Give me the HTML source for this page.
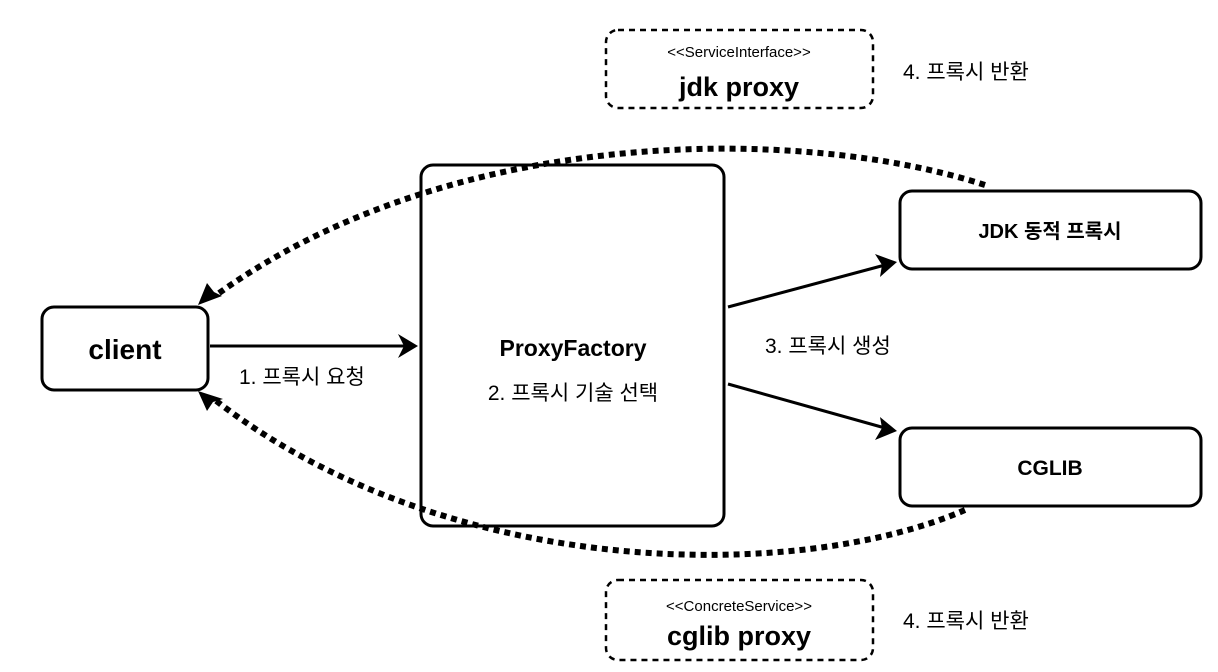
<!DOCTYPE html>
<html><head><meta charset="utf-8"><style>
html,body{margin:0;padding:0;background:#fff;}
svg{display:block;}
text{font-family:"Liberation Sans","Noto Sans CJK KR",sans-serif;fill:#000;}
</style></head><body>
<svg width="1218" height="672" viewBox="0 0 1218 672">
<g fill="none" stroke="#000" stroke-width="3">
<rect x="42" y="307" width="166" height="83" rx="12"/>
<rect x="421" y="165" width="303" height="361" rx="12"/>
<rect x="900" y="191" width="301" height="78" rx="12"/>
<rect x="900" y="428" width="301" height="78" rx="12"/>
<rect x="606" y="30" width="267" height="78" rx="12" stroke-dasharray="6 5" stroke-width="2.5"/>
<rect x="606" y="580" width="267" height="80" rx="12" stroke-dasharray="6 5" stroke-width="2.5"/>
<path d="M985,185 C800,125 450,125 215,296" stroke-width="6" stroke-dasharray="6 5"/>
<path d="M965,510 C800,582 450,582 215,400" stroke-width="6" stroke-dasharray="6 5"/>
<line x1="210" y1="346" x2="405" y2="346"/>
<line x1="728" y1="307" x2="885" y2="265"/>
<line x1="728" y1="384" x2="885" y2="428"/>
</g>
<g fill="#000">
<polygon points="418,346 398,334 404,346 398,358"/>
<polygon points="897,262 875,254 882,265 880,277"/>
<polygon points="897,431 880,417 882,428 875,440"/>
<polygon points="198,305 222,296 214,292 207,283"/>
<polygon points="198,391 207,411 213,402 223,399"/>
</g>
<text x="125" y="359" font-size="28" font-weight="bold" text-anchor="middle">client</text>
<text x="573" y="356" font-size="23" font-weight="bold" text-anchor="middle">ProxyFactory</text>
<text x="573" y="400" font-size="21" text-anchor="middle">2. 프록시 기술 선택</text>
<text x="1050" y="238" font-size="20" font-weight="bold" text-anchor="middle">JDK 동적 프록시</text>
<text x="1050" y="475" font-size="21" font-weight="bold" text-anchor="middle">CGLIB</text>
<text x="739" y="57" font-size="15" text-anchor="middle">&lt;&lt;ServiceInterface&gt;&gt;</text>
<text x="739" y="96" font-size="27" font-weight="bold" text-anchor="middle">jdk proxy</text>
<text x="739" y="611" font-size="15" text-anchor="middle">&lt;&lt;ConcreteService&gt;&gt;</text>
<text x="739" y="645" font-size="27" font-weight="bold" text-anchor="middle">cglib proxy</text>
<text x="903" y="79" font-size="21">4. 프록시 반환</text>
<text x="903" y="628" font-size="21">4. 프록시 반환</text>
<text x="239" y="384" font-size="21">1. 프록시 요청</text>
<text x="765" y="353" font-size="21">3. 프록시 생성</text>
</svg>
</body></html>
